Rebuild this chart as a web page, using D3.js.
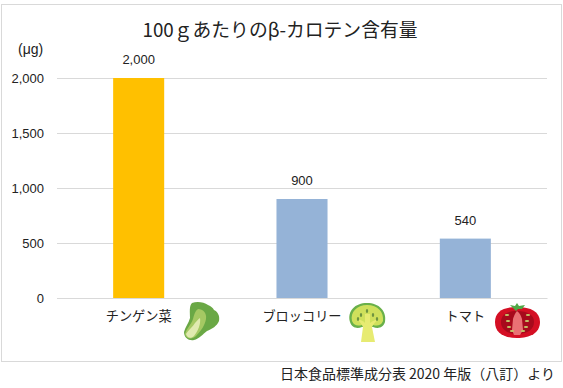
<!DOCTYPE html>
<html>
<head>
    <meta charset="utf-8">
    <title>β-カロテン含有量</title>
    <script src="https://cdn.jsdelivr.net/npm/d3@7/dist/d3.min.js"></script>
    <style>
        html, body { margin: 0; padding: 0; background: #fff; }
        svg { display: block; }
        text { font-family: "Noto Sans CJK JP", "Liberation Sans", sans-serif; fill: #222; }
        .num { font-family: "Liberation Sans", Arial, sans-serif; }
    </style>
</head>
<body>
    <svg width="563" height="388" id="mainsvg"></svg>
    <script>
        const categories = ['チンゲン菜', 'ブロッコリー', 'トマト'];
        const values = [2000, 900, 540];
        const barColors = ['#ffc000', '#95b3d7', '#95b3d7'];
        const yTicks = [0, 500, 1000, 1500, 2000];

        const svg = d3.select('#mainsvg');
        const margin = { top: 78, right: 16, bottom: 90, left: 57 };
        const innerWidth = 563 - margin.left - margin.right;
        const innerHeight = 388 - margin.top - margin.bottom;

        // chart frame
        svg.append('rect')
            .attr('x', 1.5).attr('y', 4.5)
            .attr('width', 560).attr('height', 357)
            .attr('fill', '#fff')
            .attr('stroke', '#d9d9d9');

        const g = svg.append('g')
            .attr('transform', `translate(${margin.left}, ${margin.top})`);

        const xScale = d3.scaleBand()
            .domain(categories)
            .range([0, innerWidth])
            .paddingInner(0.6875)
            .paddingOuter(0.34375);

        const yScale = d3.scaleLinear()
            .domain([0, 2000])
            .range([innerHeight, 0]);

        // gridlines and y labels
        const yAxis = d3.axisLeft(yScale)
            .tickValues(yTicks)
            .tickSize(-innerWidth)
            .tickPadding(13)
            .tickFormat(d3.format(','));

        const yG = g.append('g').call(yAxis);
        yG.select('.domain').remove();
        yG.selectAll('line').attr('stroke', '#d9d9d9');
        yG.selectAll('text')
            .attr('class', 'num')
            .attr('font-size', 13)
            .style('fill', '#222');

        // bars
        g.selectAll('.bar')
            .data(values)
            .enter()
            .append('rect')
                .attr('class', 'bar')
                .attr('x', (d, i) => xScale(categories[i]))
                .attr('y', d => yScale(d))
                .attr('width', xScale.bandwidth())
                .attr('height', d => innerHeight - yScale(d))
                .attr('fill', (d, i) => barColors[i]);

        // value labels
        g.selectAll('.value')
            .data(values)
            .enter()
            .append('text')
                .attr('class', 'value num')
                .attr('x', (d, i) => xScale(categories[i]) + xScale.bandwidth() / 2)
                .attr('y', d => yScale(d) - 14)
                .attr('text-anchor', 'middle')
                .attr('font-size', 13)
                .text(d => d3.format(',')(d));

        // category axis
        const xAxis = d3.axisBottom(xScale).tickSize(0).tickPadding(14);
        const xG = g.append('g')
            .attr('transform', `translate(0, ${innerHeight})`)
            .call(xAxis);
        xG.select('.domain').attr('stroke', '#d9d9d9');
        xG.selectAll('text')
            .attr('font-size', 13.2)
            .style('font-family', '"Noto Sans CJK JP", sans-serif')
            .style('fill', '#222');

        // titles
        svg.append('text')
            .attr('x', 280).attr('y', 37)
            .attr('text-anchor', 'middle')
            .attr('font-size', 18.8)
            .text('100ｇあたりのβ-カロテン含有量');

        svg.append('text')
            .attr('class', 'num')
            .attr('x', 18).attr('y', 54)
            .attr('font-size', 14)
            .text('(μg)');

        svg.append('text')
            .attr('x', 555).attr('y', 379)
            .attr('text-anchor', 'end')
            .attr('font-size', 14)
            .text('日本食品標準成分表 2020 年版（八訂）より');

        // little vegetable pictures
        const bok = svg.append('g').attr('transform', 'translate(184, 301)');
        bok.append('path')
            .attr('d', 'M8 2 C13 0 20 1 24 4 C27 5 29 7 30 9 C34 11 36 15 35 20 C33 25 28 28 23 30 C19 33 15 38 10 39 C5 40 0 37 0 31 C1 26 5 22 6 17 C6 11 5 5 8 2 Z')
            .attr('fill', '#6aa845');
        bok.append('path')
            .attr('d', 'M14 8 C19 8 23 12 22 18 C21 24 17 30 12 35 C8 39 2 38 1 33 C2 28 7 24 9 18 C10 14 11 10 14 8 Z')
            .attr('fill', '#a5c963');
        bok.append('path')
            .attr('d', 'M16 17 C17 23 14 30 10 35 C7 38 3 37 2 33 C4 29 9 26 11 22 C13 20 14 18 16 17 Z')
            .attr('fill', '#e0eab0');

        const broc = svg.append('g').attr('transform', 'translate(349, 302)');
        broc.append('path')
            .attr('d', 'M1 20 C-2 9 6 1 18 1 C30 1 38 9 36 20 C34 26 29 27 24 25 L13 25 C8 27 3 26 1 20 Z')
            .attr('fill', '#69b04a');
        broc.append('path')
            .attr('d', 'M3 19 C1 10 8 3 18 3 C29 3 35 10 34 19 C32 24 28 24 24 23 L13 23 C9 24 5 24 3 19 Z')
            .attr('fill', '#cfe05c');
        broc.append('path')
            .attr('d', 'M12 40 L14 25 C12 21 10 19 8 17 C12 18 15 19 16 21 L16 12 L21 12 L21 21 C23 19 26 18 29 17 C27 20 24 22 23 25 L26 40 Z')
            .attr('fill', '#e7eb72');
        broc.selectAll('ellipse')
            .data([[12, 13], [18, 9], [24, 13], [9, 17], [28, 17]])
            .enter()
            .append('ellipse')
                .attr('cx', d => d[0]).attr('cy', d => d[1])
                .attr('rx', 1.2).attr('ry', 2)
                .attr('fill', '#6f9440');

        const tomato = svg.append('g').attr('transform', 'translate(495, 304)');
        tomato.append('path')
            .attr('d', 'M0 18 C0 7 9 3 22 3 C36 3 45 8 45 18 C45 29 35 34 22 34 C9 34 0 29 0 18 Z')
            .attr('fill', '#d40f24');
        tomato.append('path')
            .attr('d', 'M6 18 C6 11 12 7 22 7 C33 7 39 11 39 18 C39 25 33 30 22 30 C12 30 6 25 6 18 Z')
            .attr('fill', '#a70a1c');
        tomato.append('path')
            .attr('d', 'M22 7 C25 9 26 12 27 15 L28 26 L25 31 L19 31 L17 26 L18 15 C19 12 20 9 22 7 Z')
            .attr('fill', '#ea7074');
        tomato.append('path')
            .attr('d', 'M15 1 L20 2 L22 -1 L24 2 L30 1 L27 5 L23 5 L21 7 L19 5 Z')
            .attr('fill', '#4fa845');
        tomato.selectAll('ellipse')
            .data([[12, 11], [33, 11], [13, 17], [32, 17], [14, 23], [31, 23], [17, 27], [28, 27]])
            .enter()
            .append('ellipse')
                .attr('cx', d => d[0]).attr('cy', d => d[1])
                .attr('rx', 2.2).attr('ry', 1.1)
                .attr('fill', '#c4c96a');
    </script>
</body>
</html>
